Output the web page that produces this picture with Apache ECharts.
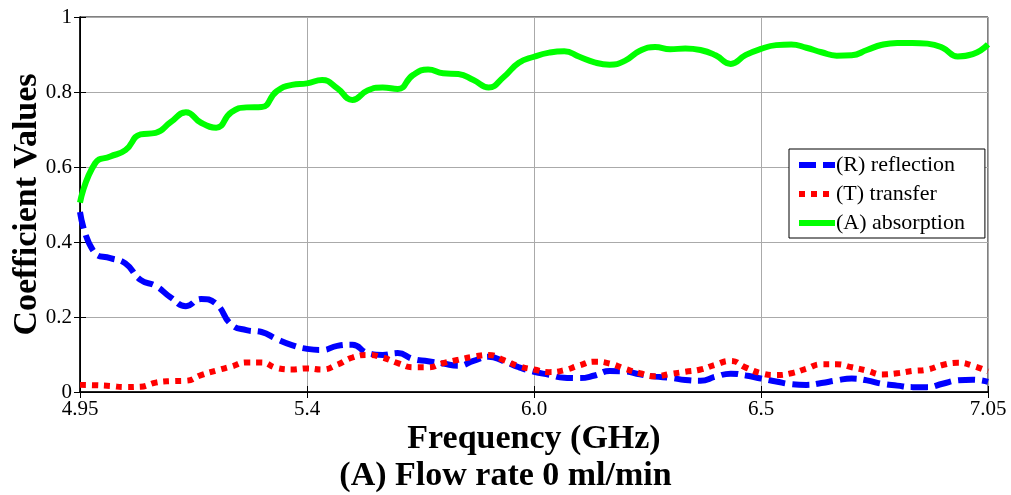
<!DOCTYPE html>
<html lang="en">
<head>
    <meta charset="UTF-8">
    <title>Flow rate 0 ml/min</title>
    <script src="https://cdn.jsdelivr.net/npm/echarts@6/dist/echarts.min.js"></script>
    <style>
        body { margin: 0; background: #fff; }
        #main { width: 1011px; height: 495px; }
    </style>
</head>
<body>
    <div id="main"></div>
    <script type="text/javascript">
        // x ticks are evenly spaced on the plot, labels as printed
        var tickLabels = ['4.95', '5.4', '6.0', '6.5', '7.05'];
        var stepsPerTick = 15;   // samples between two ticks

        var reflection = [0.48, 0.37, 0.357, 0.343, 0.299, 0.283, 0.252, 0.229, 0.248, 0.235,
            0.18, 0.165, 0.16, 0.141, 0.125, 0.115, 0.112, 0.123, 0.126, 0.104,
            0.099, 0.104, 0.088, 0.082, 0.076, 0.07, 0.083, 0.094, 0.082, 0.066,
            0.054, 0.046, 0.038, 0.037, 0.044, 0.056, 0.055, 0.047, 0.041, 0.038,
            0.032, 0.03, 0.041, 0.049, 0.044, 0.036, 0.028, 0.021, 0.019, 0.024,
            0.031, 0.036, 0.031, 0.022, 0.017, 0.013, 0.013, 0.022, 0.031, 0.033, 0.027];

        var transfer = [0.019, 0.018, 0.016, 0.013, 0.014, 0.025, 0.029, 0.03, 0.045, 0.057,
            0.068, 0.079, 0.079, 0.064, 0.06, 0.063, 0.06, 0.073, 0.092, 0.099,
            0.092, 0.077, 0.066, 0.066, 0.077, 0.086, 0.094, 0.099, 0.085, 0.069,
            0.06, 0.053, 0.058, 0.071, 0.081, 0.076, 0.062, 0.05, 0.042, 0.048,
            0.054, 0.06, 0.073, 0.083, 0.065, 0.05, 0.045, 0.05, 0.062, 0.074,
            0.074, 0.066, 0.057, 0.047, 0.05, 0.056, 0.06, 0.072, 0.078, 0.07, 0.055];

        var absorption = [0.505, 0.61, 0.628, 0.645, 0.687, 0.691, 0.72, 0.746, 0.718, 0.705,
            0.746, 0.759, 0.76, 0.802, 0.819, 0.823, 0.832, 0.81, 0.779, 0.804,
            0.812, 0.808, 0.845, 0.86, 0.85, 0.848, 0.832, 0.812, 0.84, 0.878,
            0.894, 0.905, 0.909, 0.894, 0.879, 0.873, 0.883, 0.91, 0.92, 0.914,
            0.916, 0.912, 0.898, 0.875, 0.899, 0.915, 0.925, 0.927, 0.918, 0.906,
            0.897, 0.898, 0.912, 0.926, 0.931, 0.931, 0.929, 0.918, 0.895, 0.901, 0.927];

        function pairs(arr) {
            return arr.map(function (v, i) { return [i, v]; });
        }

        var serif = 'Liberation Serif';
        var xMax = (tickLabels.length - 1) * stepsPerTick;
        var bigFont = { fontFamily: serif, fontSize: 34, fontWeight: 'bold', color: '#000' };

        var myChart = echarts.init(document.getElementById('main'));
        myChart.setOption({
            animation: false,
            title: {
                text: '(A) Flow rate 0 ml/min',
                left: 'center',
                top: 459,
                padding: 0,
                textStyle: bigFont
            },
            legend: {
                orient: 'vertical',
                left: 789,
                top: 149,
                padding: [5, 20, 4, 7],
                itemGap: 7,
                itemWidth: 36,
                itemHeight: 14,
                backgroundColor: '#fff',
                borderColor: '#000',
                borderWidth: 1,
                itemStyle: { opacity: 0 },
                lineStyle: { width: 6 },
                textStyle: { fontFamily: serif, fontSize: 22, color: '#000', padding: [0, 0, 0, -4] },
                data: ['(R) reflection', '(T) transfer', '(A) absorption']
            },
            grid: {
                left: 80,
                right: 23,
                top: 17,
                bottom: 103,
                outerBoundsMode: 'none',
                show: true,
                borderColor: '#000',
                borderWidth: 1
            },
            xAxis: [{
                type: 'value',
                min: 0,
                max: xMax,
                interval: stepsPerTick,
                name: 'Frequency (GHz)',
                nameLocation: 'middle',
                nameGap: 30,
                nameMoveOverlap: false,
                nameTextStyle: bigFont,
                axisLine: { lineStyle: { color: '#000', width: 1.5 } },
                axisTick: { inside: true, length: 6, lineStyle: { color: '#000' } },
                axisLabel: {
                    fontFamily: serif, fontSize: 21, color: '#000', margin: 7,
                    formatter: function (v) { return tickLabels[Math.round(v / stepsPerTick)]; }
                },
                splitLine: { show: true, lineStyle: { color: '#aaa', width: 1 } }
            }, {
                type: 'value',
                position: 'top',
                min: 0,
                max: xMax,
                interval: stepsPerTick,
                axisLine: { lineStyle: { color: '#000' } },
                axisTick: { inside: true, length: 6, lineStyle: { color: '#000' } },
                axisLabel: { show: false },
                splitLine: { show: false }
            }],
            yAxis: [{
                type: 'value',
                min: 0,
                max: 1,
                interval: 0.2,
                name: 'Coefficient Values',
                nameLocation: 'middle',
                nameGap: 36,
                nameMoveOverlap: false,
                nameTextStyle: bigFont,
                axisLine: { show: true, lineStyle: { color: '#000', width: 1.5 } },
                axisTick: { show: true, inside: true, length: 6, lineStyle: { color: '#000' } },
                axisLabel: {
                    fontFamily: serif, fontSize: 21, color: '#000', margin: 8,
                    formatter: function (v) { return v === 0 || v === 1 ? String(v) : v.toFixed(1); }
                },
                splitLine: { show: true, lineStyle: { color: '#aaa', width: 1 } }
            }, {
                type: 'value',
                position: 'right',
                min: 0,
                max: 1,
                interval: 0.2,
                axisLine: { show: true, lineStyle: { color: '#000' } },
                axisTick: { show: true, inside: true, length: 6, lineStyle: { color: '#000' } },
                axisLabel: { show: false },
                splitLine: { show: false }
            }],
            series: [
                {
                    name: '(R) reflection',
                    type: 'line',
                    smooth: 0.5,
                    showSymbol: false,
                    symbol: 'none',
                    color: '#0000ff',
                    lineStyle: { color: '#0000ff', width: 6, type: [17, 7] },
                    data: pairs(reflection)
                },
                {
                    name: '(T) transfer',
                    type: 'line',
                    smooth: 0.5,
                    showSymbol: false,
                    symbol: 'none',
                    color: '#ff0000',
                    lineStyle: { color: '#ff0000', width: 6, type: [6, 6] },
                    data: pairs(transfer)
                },
                {
                    name: '(A) absorption',
                    type: 'line',
                    smooth: 0.5,
                    showSymbol: false,
                    symbol: 'none',
                    color: '#00ff00',
                    lineStyle: { color: '#00ff00', width: 6 },
                    data: pairs(absorption)
                }
            ]
        });
    </script>
</body>
</html>
